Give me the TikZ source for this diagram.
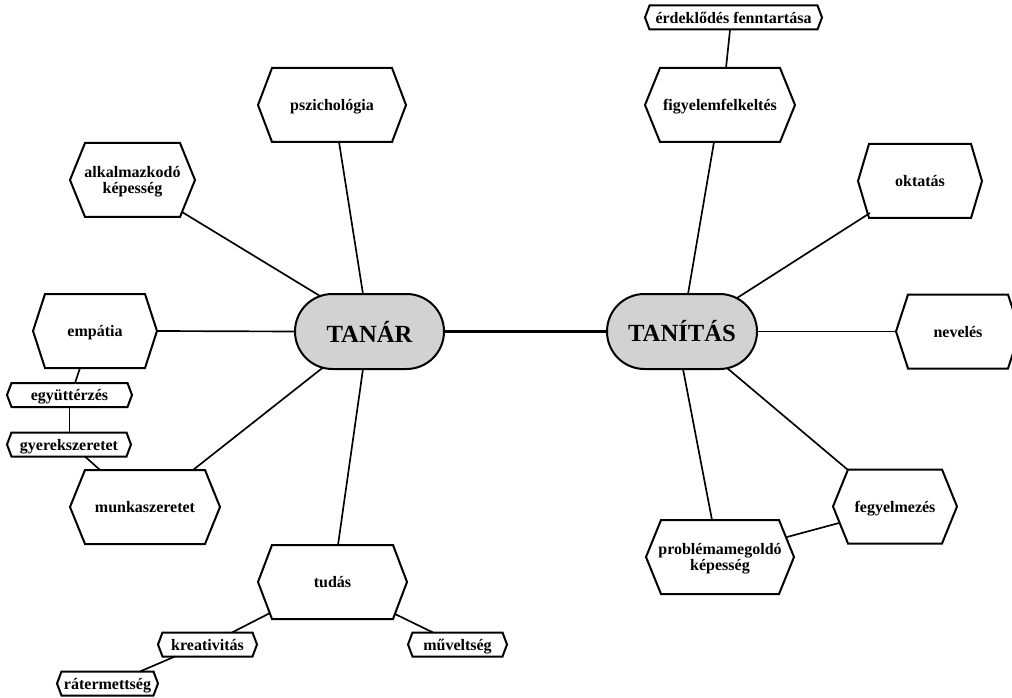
\documentclass[tikz,border=0pt]{standalone}
\usepackage{fontspec}
\setmainfont{Liberation Serif}
\usetikzlibrary{calc}
\definecolor{hubgray}{RGB}{210,210,210}
\begin{document}
\begin{tikzpicture}[x=0.75pt,y=-0.75pt,
  lab/.style={font=\bfseries\fontsize{12}{12.5}\selectfont, align=center, inner sep=0pt, outer sep=0pt, rectangle, text depth=0pt},
  big/.style={lab, minimum width=#1, minimum height=55.5pt},
  small/.style={lab, minimum width=#1, minimum height=18pt},
  hub/.style={rectangle, draw, line width=1.5pt, fill=hubgray, rounded corners=28.1pt,
    minimum width=#1, minimum height=56.25pt, inner sep=0pt, outer sep=0pt,
    font=\bfseries\fontsize{18.5}{20}\selectfont},
  hexline/.style={line width=1.5pt, line join=miter},
  link/.style={line width=1.25pt},
  thick link/.style={line width=2.6pt}]
\useasboundingbox (0,0) rectangle (1012,698);

% hubs
\node[hub=111.75pt] (tanar) at (369.5,331.5) {TANÁR};
\node[hub=112.5pt] (tanitas) at (682,331.5) {TANÍTÁS};

% large hexagons
\node[big=111pt] (psz) at (332,105) {pszichológia};
\node[big=93.75pt] (alk) at (132.5,180) {alkalmazkodó\\képesség};
\node[big=93pt] (emp) at (95,331) {empátia};
\node[big=112.5pt] (munka) at (145,507) {munkaszeretet};
\node[big=111.75pt] (tudas) at (332.5,582) {tudás};
\node[big=112.5pt] (figy) at (720,105) {figyelemfelkeltés};
\node[big=93pt] (okt) at (920,181) {oktatás};
\node[big=93pt] (nev) at (958,331.5) {nevelés};
\node[big=93pt] (fegy) at (895,506.5) {fegyelmezés};
\node[big=111pt] (prob) at (720,557) {problémamegoldó\\képesség};

% small hexagons
\node[small=93.75pt] (egy) at (69.5,395) {együttérzés};
\node[small=93pt] (gyer) at (69,444.5) {gyerekszeretet};
\node[small=74.25pt] (kre) at (207.5,644.5) {kreativitás};
\node[small=74.25pt] (mu) at (457.5,644.5) {műveltség};
\node[small=75.75pt] (rat) at (107.5,683.5) {rátermettség};
\node[small=132.75pt] (erd) at (733.5,17.5) {érdeklődés fenntartása};

% hexagon outlines
\foreach \nn/\dd in {psz/14, alk/15, emp/12, munka/15, tudas/14, figy/15, okt/11, nev/12, fegy/15, prob/15,
                     egy/4.5, gyer/4.5, kre/4.5, mu/4.5, rat/4.5, erd/4.5}
  \draw[hexline] (\nn.west) -- ($(\nn.north west)+(\dd,0)$) -- ($(\nn.north east)+(-\dd,0)$)
     -- (\nn.east) -- ($(\nn.south east)+(-\dd,0)$) -- ($(\nn.south west)+(\dd,0)$) -- cycle;

% connectors
\draw[thick link] (tanar.east) -- (tanitas.west);
\draw[link] ($(psz.center)+(7,37)$) -- ($(tanar.center)+(-6.5,-37.5)$);
\draw[link] ($(alk.center)+(49.5,32)$) -- ($(tanar.center)+(-49.5,-35.5)$);
\draw[link] (emp.east) -- (tanar.west);
\draw[link] ($(munka.center)+(48,-37)$) -- ($(tanar.center)+(-46.5,36)$);
\draw[link] ($(tudas.center)+(5.5,-37)$) -- ($(tanar.center)+(-6.5,37.5)$);
\draw[link] ($(emp.center)+(-15,37)$) -- ($(egy.center)+(5.5,-12)$);
\draw[link] ($(egy.center)+(0,12)$) -- ($(gyer.center)+(0.5,-12)$);
\draw[link] ($(gyer.center)+(16,12)$) -- ($(munka.center)+(-45,-37)$);
\draw[link] ($(tudas.center)+(-62.5,31)$) -- ($(kre.center)+(24.5,-12)$);
\draw[link] ($(tudas.center)+(62.5,32)$) -- ($(mu.center)+(-24.5,-12)$);
\draw[link] ($(kre.center)+(-32.5,12)$) -- ($(rat.center)+(32.5,-12)$);
\draw[link] ($(erd.center)+(-3.5,12.5)$) -- ($(figy.center)+(6,-37)$);
\draw[link] ($(figy.center)+(-6,37)$) -- ($(tanitas.center)+(6,-37.5)$);
\draw[link] ($(okt.center)+(-50,32)$) -- ($(tanitas.center)+(55,-33.5)$);
\draw[link] (nev.west) -- (tanitas.east);
\draw[link] ($(tanitas.center)+(45,36.5)$) -- ($(fegy.center)+(-47,-36.5)$);
\draw[link] ($(prob.center)+(-8,-37)$) -- ($(tanitas.center)+(1,37.5)$);
\draw[link] ($(prob.center)+(67,-20)$) -- ($(fegy.center)+(-56,16.5)$);
\end{tikzpicture}
\end{document}
